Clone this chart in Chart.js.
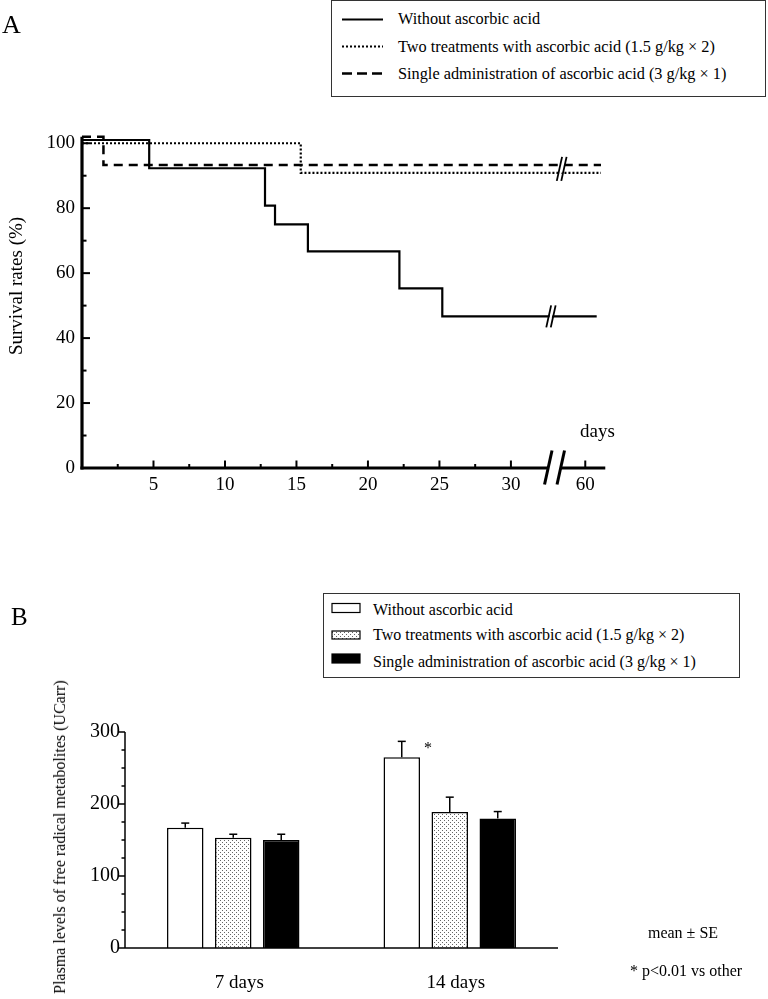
<!DOCTYPE html>
<html>
<head>
<meta charset="utf-8">
<title>Survival rates and plasma free radical metabolites</title>
<script src="https://cdn.jsdelivr.net/npm/chart.js@4.4.1/dist/chart.umd.min.js"></script>
<style>
  html, body { margin: 0; padding: 0; background: #fff; }
  #page { position: relative; width: 768px; height: 999px; overflow: hidden;
          font-family: "Liberation Serif", "Times New Roman", serif; color: #000; }
  #page canvas { position: absolute; left: 0; }
  .t { position: absolute; white-space: nowrap; line-height: 1; }
  .rot { transform: translate(-50%, -50%) rotate(-90deg); }
  .ctr { transform: translateX(-50%); }
  .box { position: absolute; border: 1px solid #333; background: #fff; }
  svg.key { position: absolute; overflow: visible; }
</style>
</head>
<body>
<div id="page">
  <canvas id="survival" width="768" height="500" style="top:0"></canvas>
  <canvas id="plasma" width="768" height="499" style="top:500px"></canvas>

  <!-- panel A -->
  <div class="t" style="left:2px;top:12px;font-size:26px">A</div>
  <div class="box" style="left:331px;top:0;width:433px;height:95px"></div>
  <svg class="key" style="left:0;top:0" width="768" height="100">
    <line x1="342" y1="19.5" x2="383" y2="19.5" stroke="#000" stroke-width="2.2"/>
    <line x1="342" y1="46.5" x2="383" y2="46.5" stroke="#000" stroke-width="2.2" stroke-dasharray="2 2"/>
    <line x1="342" y1="73.5" x2="383" y2="73.5" stroke="#000" stroke-width="2.5" stroke-dasharray="10 5"/>
  </svg>
  <div class="t" style="left:398px;top:11px;font-size:16.3px">Without ascorbic acid</div>
  <div class="t" style="left:398px;top:38.5px;font-size:16.3px">Two treatments with ascorbic acid (1.5 g/kg × 2)</div>
  <div class="t" style="left:398px;top:65.5px;font-size:16.3px">Single administration of ascorbic acid (3 g/kg × 1)</div>
  <div class="t rot" style="left:15px;top:286px;font-size:19px">Survival rates (%)</div>
  <div class="t" style="left:580px;top:421px;font-size:19px">days</div>

  <!-- panel B -->
  <div class="t" style="left:11px;top:604px;font-size:25px">B</div>
  <div class="box" style="left:323px;top:593px;width:415px;height:83px"></div>
  <svg class="key" style="left:0;top:0" width="768" height="999">
    <defs>
      <pattern id="dots" width="4" height="4" patternUnits="userSpaceOnUse">
        <rect width="4" height="4" fill="#fff"/>
        <rect x="0" y="0" width="1" height="1" fill="#666"/>
        <rect x="2" y="2" width="1" height="1" fill="#666"/>
      </pattern>
    </defs>
    <rect x="332" y="603.5" width="28" height="9" fill="#fff" stroke="#000" stroke-width="1.2"/>
    <rect x="332" y="631" width="28" height="8" fill="url(#dots)" stroke="#000" stroke-width="1.2"/>
    <rect x="332" y="654" width="28" height="9" fill="#000" stroke="#000" stroke-width="1.2"/>
  </svg>
  <div class="t" style="left:373px;top:601.5px;font-size:16px">Without ascorbic acid</div>
  <div class="t" style="left:373px;top:626.5px;font-size:16px">Two treatments with ascorbic acid (1.5 g/kg × 2)</div>
  <div class="t" style="left:373px;top:653.5px;font-size:16px">Single administration of ascorbic acid (3 g/kg × 1)</div>
  <div class="t rot" style="left:60px;top:837px;font-size:16px">Plasma levels of free radical metabolites (UCarr)</div>
  <div class="t" style="left:424px;top:740px;font-size:16px">*</div>
  <div class="t ctr" style="left:683px;top:924.5px;font-size:16px">mean ± SE</div>
  <div class="t" style="left:630px;top:962.5px;font-size:16px">* p&lt;0.01 vs other</div>
</div>

<script>
// ---- panel A: survival (days, %) ----
var withoutDays = [0, 4.7, 12.8, 13.5, 15.8, 22.2, 25.2, 60.8];
var withoutSurv = [101, 92.3, 80.8, 75, 66.7, 55.3, 46.7, 46.7];
var twoDays = [0, 15.3, 61.1];
var twoSurv = [100, 90.9, 90.9];
var singleDays = [0, 1.5, 61.1];
var singleSurv = [102, 93.3, 93.3];
var dayTicks = [5, 10, 15, 20, 25, 30, 60];
var survTicks = [0, 20, 40, 60, 80, 100];

// ---- panel B: plasma free radical metabolites (UCarr) ----
var timePoints = ['7 days', '14 days'];
var withoutMean = [167, 265];
var withoutSE = [6.5, 22];
var twoMean = [153, 189];
var twoSE = [5, 20.5];
var singleMean = [150, 180];
var singleSE = [8, 9.5];
var plasmaTicks = [0, 100, 200, 300];

Chart.defaults.font.family = '"Liberation Serif", "Times New Roman", serif';
Chart.defaults.color = '#000';

// the day axis is broken between 30 and 60
var BREAK_DAY = 60, BREAK_POS = 35.2;
function dayPos(d) { return d < 40 ? d : BREAK_POS + (d - BREAK_DAY); }
function toPoints(days, vals) {
  return days.map(function(d, i) { return { x: dayPos(d), y: vals[i] }; });
}

function stroke(ctx, x1, y1, x2, y2) {
  ctx.beginPath(); ctx.moveTo(x1, y1); ctx.lineTo(x2, y2); ctx.stroke();
}

function slashPair(ctx, cx, cy, h, gap) {
  // little "//" mark used for the breaks
  var dx = h * 0.22;
  ctx.save();
  ctx.fillStyle = '#fff';
  ctx.beginPath();
  ctx.moveTo(cx - gap / 2 - dx / 2 + 1, cy + h / 2 - 4);
  ctx.lineTo(cx - gap / 2 + dx / 2 + 1, cy - h / 2 + 4);
  ctx.lineTo(cx + gap / 2 + dx / 2 - 1, cy - h / 2 + 4);
  ctx.lineTo(cx + gap / 2 - dx / 2 - 1, cy + h / 2 - 4);
  ctx.closePath();
  ctx.fill();
  ctx.restore();
  stroke(ctx, cx - gap / 2 - dx / 2, cy + h / 2, cx - gap / 2 + dx / 2, cy - h / 2);
  stroke(ctx, cx + gap / 2 - dx / 2, cy + h / 2, cx + gap / 2 + dx / 2, cy - h / 2);
}

var survivalAxes = {
  id: 'survivalAxes',
  afterDraw: function(chart) {
    var ctx = chart.ctx, xs = chart.scales.x, ys = chart.scales.y;
    var x0 = xs.getPixelForValue(0), y0 = ys.getPixelForValue(0);
    var i, px, py;
    ctx.save();
    ctx.strokeStyle = '#000';

    // axes
    ctx.lineWidth = 3.2;
    stroke(ctx, x0, y0 + 1.6, x0, ys.getPixelForValue(102));
    stroke(ctx, x0 - 1.6, y0, xs.getPixelForValue(32.6), y0);
    stroke(ctx, xs.getPixelForValue(33.5), y0, xs.getPixelForValue(36.6), y0);

    // break on the day axis
    ctx.lineWidth = 3;
    slashPair(ctx, xs.getPixelForValue(33.05), y0 - 0.5, 34, 12.5);

    // ticks point into the plot
    ctx.lineWidth = 2;
    dayTicks.forEach(function(d) {
      px = xs.getPixelForValue(dayPos(d));
      stroke(ctx, px, y0, px, y0 - 7.5);
    });
    for (i = 2.5; i < 30; i += 5) {
      px = xs.getPixelForValue(i);
      stroke(ctx, px, y0, px, y0 - 4);
    }
    survTicks.forEach(function(v) {
      py = ys.getPixelForValue(v);
      stroke(ctx, x0, py, x0 + 8, py);
    });
    for (i = 10; i < 100; i += 20) {
      py = ys.getPixelForValue(i);
      stroke(ctx, x0, py, x0 + 4.5, py);
    }

    // breaks on the curves
    ctx.lineWidth = 1.8;
    slashPair(ctx, xs.getPixelForValue(32.8), ys.getPixelForValue(46.7), 22, 4.5);
    slashPair(ctx, xs.getPixelForValue(33.55), ys.getPixelForValue(92.1), 24, 4.5);
    ctx.restore();
  }
};

var survivalChart = new Chart(document.getElementById('survival').getContext('2d'),
{
  type: 'line',
  data:
  {
    datasets:
    [
      {
        label: 'Without ascorbic acid',
        data: toPoints(withoutDays, withoutSurv),
        borderColor: '#000',
        borderWidth: 2.2,
        stepped: 'before',
        pointRadius: 0,
        fill: false
      },
      {
        label: 'Two treatments with ascorbic acid (1.5 g/kg × 2)',
        data: toPoints(twoDays, twoSurv),
        borderColor: '#000',
        borderWidth: 2.2,
        borderDash: [2, 2],
        stepped: 'before',
        pointRadius: 0,
        fill: false
      },
      {
        label: 'Single administration of ascorbic acid (3 g/kg × 1)',
        data: toPoints(singleDays, singleSurv),
        borderColor: '#000',
        borderWidth: 2.5,
        borderDash: [9, 6],
        stepped: 'before',
        pointRadius: 0,
        fill: false
      }
    ]
  },
  options:
  {
    responsive: false,
    animation: false,
    layout: { padding: { top: 127, right: 157, left: 0, bottom: 0 } },
    plugins: { legend: { display: false }, tooltip: { enabled: false } },
    scales:
    {
      x:
      {
        type: 'linear',
        min: 0,
        max: 37,
        grid: { display: false, drawTicks: false },
        border: { display: false },
        afterBuildTicks: function(s) { s.ticks = dayTicks.map(function(d) { return { value: dayPos(d) }; }); },
        afterFit: function(s) { s.height = 32; },
        ticks:
        {
          autoSkip: false,
          maxRotation: 0,
          padding: 6,
          font: { size: 19 },
          callback: function(v, i) { return String(dayTicks[i]); }
        }
      },
      y:
      {
        min: 0,
        max: 105,
        grid: { display: false, drawTicks: false },
        border: { display: false },
        afterBuildTicks: function(s) { s.ticks = survTicks.map(function(v) { return { value: v }; }); },
        afterFit: function(s) { s.width = 82; },
        ticks: { padding: 7, font: { size: 19 } }
      }
    }
  },
  plugins: [survivalAxes]
});

// ---- panel B ----
var plasmaCtx = document.getElementById('plasma').getContext('2d');

function dotPattern(ctx) {
  var c = document.createElement('canvas');
  c.width = 4; c.height = 4;
  var g = c.getContext('2d');
  g.fillStyle = '#fff'; g.fillRect(0, 0, 4, 4);
  g.fillStyle = '#666';
  g.fillRect(0, 0, 1, 1); g.fillRect(2, 2, 1, 1);
  return ctx.createPattern(c, 'repeat');
}

var plasmaSE = [withoutSE, twoSE, singleSE];
var plasmaMean = [withoutMean, twoMean, singleMean];

var plasmaExtras = {
  id: 'plasmaExtras',
  afterDatasetsDraw: function(chart) {
    var ctx = chart.ctx, ys = chart.scales.y;
    ctx.save();
    ctx.strokeStyle = '#000';
    ctx.lineWidth = 1.5;
    chart.data.datasets.forEach(function(ds, di) {
      chart.getDatasetMeta(di).data.forEach(function(bar, j) {
        var top = ys.getPixelForValue(plasmaMean[di][j] + plasmaSE[di][j]);
        stroke(ctx, bar.x, bar.y, bar.x, top);
        stroke(ctx, bar.x - 4, top, bar.x + 4, top);
      });
    });
    ctx.restore();
  },
  afterDraw: function(chart) {
    var ctx = chart.ctx, ys = chart.scales.y;
    var left = chart.chartArea.left, right = chart.chartArea.right;
    var y0 = ys.getPixelForValue(0), py, v;
    ctx.save();
    ctx.strokeStyle = '#000';
    ctx.lineWidth = 1.5;
    stroke(ctx, left, y0, right, y0);
    stroke(ctx, left, y0, left, ys.getPixelForValue(300));
    for (v = 0; v <= 300; v += 25) {
      py = ys.getPixelForValue(v);
      stroke(ctx, left, py, left - (v % 100 === 0 ? 7 : 3.5), py);
    }
    ctx.restore();
  }
};

var plasmaChart = new Chart(plasmaCtx,
{
  type: 'bar',
  data:
  {
    labels: timePoints,
    datasets:
    [
      {
        label: 'Without ascorbic acid',
        data: withoutMean,
        backgroundColor: '#fff',
        borderColor: '#000',
        borderWidth: 1.5
      },
      {
        label: 'Two treatments with ascorbic acid (1.5 g/kg × 2)',
        data: twoMean,
        backgroundColor: dotPattern(plasmaCtx),
        borderColor: '#000',
        borderWidth: 1.5
      },
      {
        label: 'Single administration of ascorbic acid (3 g/kg × 1)',
        data: singleMean,
        backgroundColor: '#000',
        borderColor: '#000',
        borderWidth: 1.5
      }
    ]
  },
  options:
  {
    responsive: false,
    animation: false,
    barPercentage: 0.76,
    categoryPercentage: 0.665,
    layout: { padding: { top: 232, right: 210, left: 0, bottom: 0 } },
    plugins: { legend: { display: false }, tooltip: { enabled: false } },
    scales:
    {
      x:
      {
        grid: { display: false, drawTicks: false },
        border: { display: false },
        afterFit: function(s) { s.height = 51; },
        ticks: { padding: 24, labelOffset: 6, font: { size: 19 }, maxRotation: 0 }
      },
      y:
      {
        min: 0,
        max: 300,
        grid: { display: false, drawTicks: false },
        border: { display: false },
        afterBuildTicks: function(s) { s.ticks = plasmaTicks.map(function(v) { return { value: v }; }); },
        afterFit: function(s) { s.width = 125; },
        ticks: { padding: 5, font: { size: 20 } }
      }
    }
  },
  plugins: [plasmaExtras]
});
</script>
</body>
</html>
